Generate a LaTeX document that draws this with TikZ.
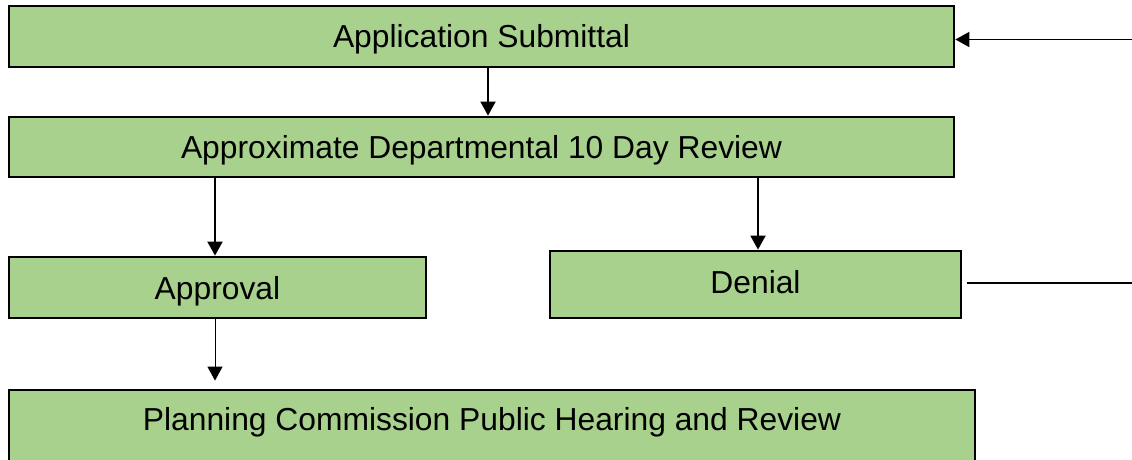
\documentclass[tikz,border=0pt]{standalone}
\usepackage{fontspec}
\setmainfont{Liberation Sans}
\usetikzlibrary{arrows.meta}
\definecolor{boxgreen}{HTML}{A9D18E}
\begin{document}
\begin{tikzpicture}
      [x=1pt,y=-1pt,>={Triangle[length=14pt,width=15pt]},line width=1.9pt,
      flow box/.style={rectangle,fill=boxgreen,draw,line width=2.8pt,
      inner sep=0pt,text height=23pt,text depth=0pt,font=\fontsize{31.8}{38}\selectfont}]
      \useasboundingbox (0,0) rectangle (1132,460);
      \clip (0,0) rectangle (1132,460);
      \node[flow box,minimum width=945,minimum height=61] (submit) at (481.5,36.5) {Application Submittal};
      \node[flow box,minimum width=945,minimum height=60] (review) at (481.5,147) {Approximate Departmental 10 Day Review};
      \node[flow box,minimum width=417,minimum height=61] (approve) at (217.5,287.5) {Approval};
      \node[flow box,minimum width=411,minimum height=67,text depth=5pt] (deny) at (755.5,284.5) {Denial};
      \node[flow box,minimum width=966,text height=40.4pt,text depth=39.6pt] (hearing) at (492,430) {Planning Commission Public Hearing and Review};
      \coordinate (resubmit) at (1134,39.5);
      \coordinate (denyend) at (1134,283);
      \draw[->] ([xshift=6.5pt]submit.south) -- ([xshift=6.5pt]review.north);
      \draw[->] ([xshift=-2.5pt]review.south -| approve.north) -- ([xshift=-2.5pt]approve.north);
      \draw[->] ([xshift=2.5pt]review.south -| deny.north) -- ([xshift=2.5pt]deny.north);
      \draw[->,line width=0.9pt,shorten >=8pt] ([xshift=-2.5pt]approve.south) -- ([xshift=-2.5pt]approve.south |- hearing.north);
      \draw[->] (resubmit) -- (resubmit -| submit.east);
      \draw ([xshift=5pt]deny.east |- denyend) -- (denyend);
    \end{tikzpicture}
\end{document}
